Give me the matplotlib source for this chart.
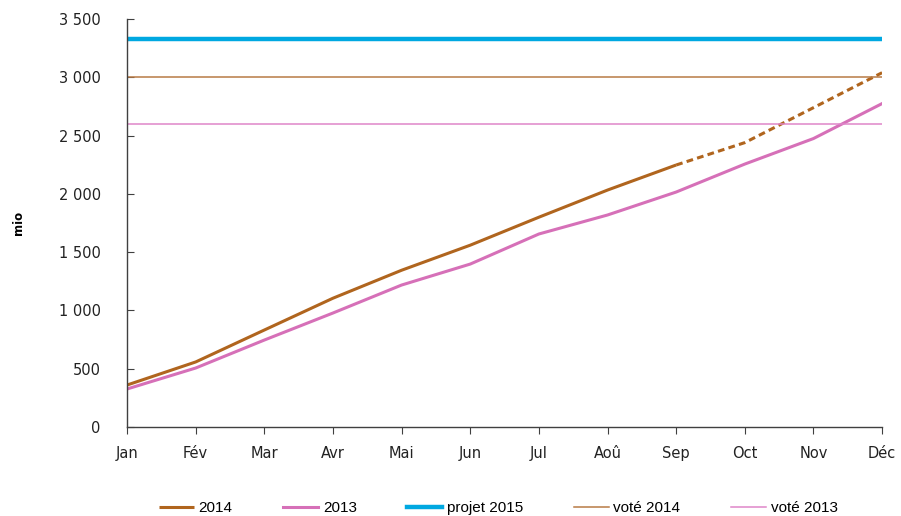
import matplotlib.pyplot as plt
from matplotlib.ticker import FuncFormatter

months = ["Jan", "Fév", "Mar", "Avr", "Mai", "Jun", "Jul", "Aoû", "Sep", "Oct", "Nov", "Déc"]

# cumul 2014 (réel jusqu'à septembre, puis projection)
real_2014 = [360, 558, 832, 1105, 1345, 1560, 1800, 2033, 2248]
proj_2014 = [2248, 2440, 2740, 3040]
vals_2013 = [326, 506, 746, 978, 1218, 1398, 1656, 1819, 2016, 2256, 2475, 2775]

projet_2015 = 3330
vote_2014 = 3005
vote_2013 = 2600

c14 = "#B0651E"
c13 = "#D670B8"
cblue = "#00A8E1"
cv14 = "#B87A45"
cv13 = "#DF86C9"

plt.rcParams['font.family'] = ['DejaVu Sans']

fig = plt.figure(figsize=(9.01, 5.16), dpi=100)
ax = fig.add_axes([0.141, 0.1725, 0.838, 0.7905])

x = list(range(len(months)))
ax.plot(x[:len(real_2014)], real_2014, color=c14, lw=2.2, label="2014", solid_capstyle="butt")
ax.plot(x[8:12], proj_2014, color=c14, lw=2.2, ls=(0, (2.2, 1.4)))
ax.plot(x, vals_2013, color=c13, lw=2.2, label="2013")
ax.plot([x[0], x[-1]], [projet_2015] * 2, color=cblue, lw=3.2, label="projet 2015")
ax.plot([x[0], x[-1]], [vote_2014] * 2, color=cv14, lw=1.1, label="voté 2014")
ax.plot([x[0], x[-1]], [vote_2013] * 2, color=cv13, lw=1.1, label="voté 2013")

ax.set_xlim(0, 11)
ax.set_ylim(0, 3500)
ax.set_xticks(x)
ax.set_xticklabels(months)
ax.set_yticks(range(0, 3501, 500))
ax.yaxis.set_major_formatter(FuncFormatter(lambda v, p: f"{int(v):,}".replace(",", " ")))
ax.tick_params(axis="y", direction="in", length=5, labelsize=10.5, pad=19, colors="#404040", labelcolor="#222222")
ax.tick_params(axis="x", direction="out", length=5, labelsize=10.5, pad=9, colors="#404040", labelcolor="#222222")
for s in ["top", "right"]:
    ax.spines[s].set_visible(False)
for s in ["left", "bottom"]:
    ax.spines[s].set_color("#404040")
    ax.spines[s].set_linewidth(1.0)

ax.set_ylabel("mio", fontsize=8.5, fontweight="bold", labelpad=24)

leg = fig.legend(loc="lower center", bbox_to_anchor=(0.553, -0.025), ncol=5, frameon=False,
                 handlelength=2.3, columnspacing=3.3, handletextpad=0.3,
                 prop={"family": "Liberation Sans", "size": 11})

fig.savefig("out.png", dpi=100)
